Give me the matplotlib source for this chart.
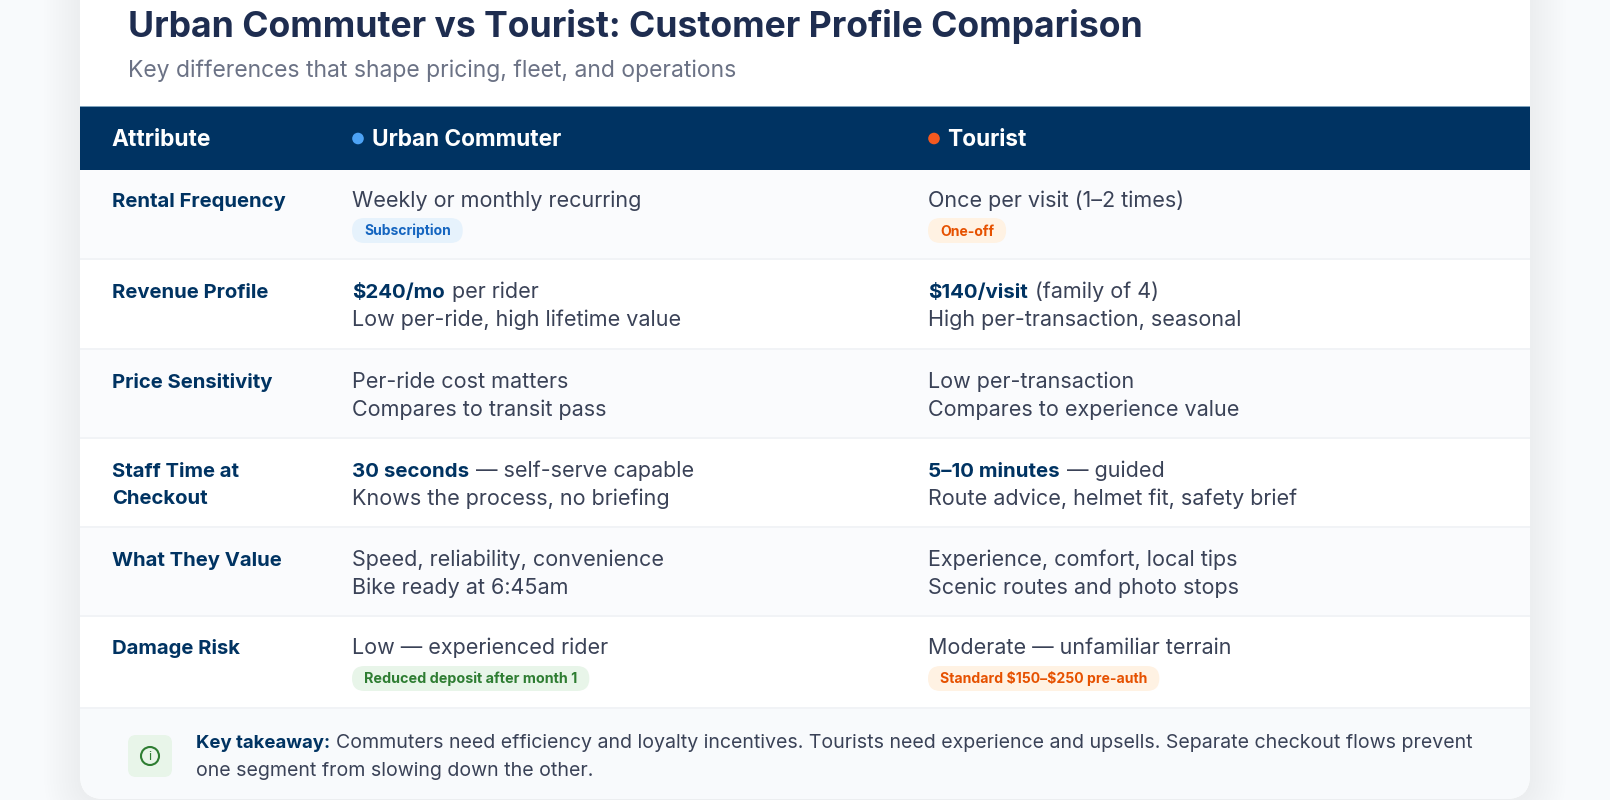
import matplotlib
matplotlib.use('Agg')
import matplotlib.pyplot as plt
from matplotlib.patches import FancyBboxPatch, Rectangle, Circle

plt.rcParams['font.family'] = ['Inter', 'DejaVu Sans']
plt.rcParams['text.parse_math'] = False

title = 'Urban Commuter vs Tourist: Customer Profile Comparison'
subtitle = 'Key differences that shape pricing, fleet, and operations'
headers = ['Attribute', 'Urban Commuter', 'Tourist']
attributes = ['Rental Frequency', 'Revenue Profile', 'Price Sensitivity',
              'Staff Time at\nCheckout', 'What They Value', 'Damage Risk']
# first line: bold lead-in, then plain rest
commuter_bold = ['', '$240/mo', '', '30 seconds', '', '']
commuter_line1 = ['Weekly or monthly recurring', ' per rider', 'Per-ride cost matters',
                  ' \u2014 self-serve capable', 'Speed, reliability, convenience', 'Low \u2014 experienced rider']
commuter_line2 = ['', 'Low per-ride, high lifetime value', 'Compares to transit pass',
                  'Knows the process, no briefing', 'Bike ready at 6:45am', '']
commuter_tags = ['Subscription', '', '', '', '', 'Reduced deposit after month 1']
tourist_bold = ['', '$140/visit', '', '5\u201310 minutes', '', '']
tourist_line1 = ['Once per visit (1\u20132 times)', ' (family of 4)', 'Low per-transaction',
                 ' \u2014 guided', 'Experience, comfort, local tips', 'Moderate \u2014 unfamiliar terrain']
tourist_line2 = ['', 'High per-transaction, seasonal', 'Compares to experience value',
                 'Route advice, helmet fit, safety brief', 'Scenic routes and photo stops', '']
tourist_tags = ['One-off', '', '', '', '', 'Standard $150\u2013$250 pre-auth']
takeaway_bold = 'Key takeaway:'
takeaway_1 = ' Commuters need efficiency and loyalty incentives. Tourists need experience and upsells. Separate checkout flows prevent'
takeaway_2 = 'one segment from slowing down the other.'

NAVY = '#003362'
INK = '#3a4257'
BODY = 15.5

fig = plt.figure(figsize=(16.1, 8), dpi=100, facecolor='#f8fafc')
ax = fig.add_axes([0, 0, 1, 1])
ax.set_xlim(0, 1610)
ax.set_ylim(800, 0)
ax.axis('off')
rend = fig.canvas.get_renderer()


def card_shape(x0, y0, x1, y1, r, **kw):
    p = FancyBboxPatch((x0 + r, y0 + r), x1 - x0 - 2 * r, y1 - y0 - 2 * r,
                       boxstyle='round,pad=%g,rounding_size=%g' % (r, r), **kw)
    ax.add_patch(p)
    return p


def seg_text(x, y, bold, plain, size, bold_color=NAVY, color=INK):
    if bold:
        t = ax.text(x, y, bold, fontsize=size * 0.95, fontweight='bold', color=bold_color, va='baseline')
        x = t.get_window_extent(rend).x1 + 1
        if plain.startswith(' '):
            x += size * 0.38
            plain = plain[1:]
    ax.text(x, y, plain, fontsize=size, color=color, va='baseline')


def pill(x, y0, label, size, bg, fg):
    t = ax.text(x + 12, y0 + 17.5, label, fontsize=size, fontweight='bold', color=fg, va='baseline', zorder=4)
    w = t.get_window_extent(rend).width + 24
    card_shape(x, y0, x + w, y0 + 25, 12.5, fc=bg, ec='none', zorder=3)


# soft card shadow
for k in range(12):
    g = 36 - k * 3
    card_shape(80 - g, -60, 1530 + g, 800 + g, 24 + g, fc='#1e2d50', ec='none', alpha=0.0035, zorder=1)

card = card_shape(80, -60, 1530, 799, 24, fc='white', ec='none', zorder=2)

# footer band, clipped to the rounded card
foot = Rectangle((80, 708), 1450, 92, fc='#f8fafc', ec='none', zorder=2.1)
ax.add_patch(foot)
foot.set_clip_path(card)

# header band
ax.add_patch(Rectangle((80, 107), 1450, 63, fc=NAVY, ec='none', zorder=2.2))
ax.add_patch(Rectangle((80, 106), 1450, 1.2, fc='#7fa3bd', ec='none', zorder=2.2))

# rows
row_edges = [170, 259, 349, 438, 527, 616, 708]
for i in range(6):
    if i % 2 == 0:
        ax.add_patch(Rectangle((80, row_edges[i]), 1450, row_edges[i + 1] - row_edges[i],
                               fc='#fafbfd', ec='none', zorder=2.1))
    ax.add_patch(Rectangle((80, row_edges[i + 1] - 1.2), 1450, 2, fc='#f1f3f6', ec='none', zorder=2.3))

ax.text(128, 37.5, title, fontsize=25.6, fontweight='bold', color='#1e2d50', va='baseline', zorder=5)
ax.text(128, 77.5, subtitle, fontsize=16.5, color='#6b7285', va='baseline', zorder=5)

ax.text(111, 146, headers[0], fontsize=16.4, fontweight='bold', color='white', va='baseline', zorder=5)
ax.add_patch(Circle((358, 138.5), 5.8, fc='#4da3f5', ec='none', zorder=5))
ax.text(372, 146, headers[1], fontsize=16.3, fontweight='bold', color='white', va='baseline', zorder=5)
ax.add_patch(Circle((934, 138.5), 5.8, fc='#f4591f', ec='none', zorder=5))
ax.text(947, 146, headers[2], fontsize=16.3, fontweight='bold', color='white', va='baseline', zorder=5)

baselines = [206.7, 298.2, 387.7, 476.7, 565.7, 653.7]
for i, y in enumerate(baselines):
    lines = attributes[i].split('\n')
    for j, s in enumerate(lines):
        ax.text(112, y + j * 27, s, fontsize=14.6, fontweight='bold', color=NAVY, va='baseline', zorder=5)
    for x, bold, l1, l2 in ((352, commuter_bold, commuter_line1, commuter_line2),
                            (928, tourist_bold, tourist_line1, tourist_line2)):
        seg_text(x, y, bold[i], l1[i], BODY)
        if l2[i]:
            ax.text(x, y + 28, l2[i], fontsize=BODY, color=INK, va='baseline', zorder=5)

for c in ax.texts:
    c.set_zorder(5)

pill(352, 218, commuter_tags[0], 10.0, '#e6f2fc', '#1565c0')
pill(928, 218, tourist_tags[0], 10.1, '#fff2e3', '#e65100')
pill(352, 666, commuter_tags[5], 10.3, '#e8f5e9', '#2e7d32')
pill(928, 666, tourist_tags[5], 10.1, '#fff2e3', '#e65100')

# takeaway
card_shape(128, 735, 172, 777, 8, fc='#e8f5e9', ec='none', zorder=3)
ax.add_patch(Circle((150, 756), 9, fc='none', ec='#2e7d32', lw=1.5, zorder=4))
ax.text(150, 756.5, 'i', fontsize=9.5, color='#2e7d32', ha='center', va='center', zorder=5)
t0 = len(ax.texts)
seg_text(196, 748.5, takeaway_bold, takeaway_1, 14.1)
ax.text(196, 775.5, takeaway_2, fontsize=14.1, color=INK, va='baseline')
for c in ax.texts[t0:]:
    c.set_zorder(5)

fig.savefig('out.png', dpi=100, facecolor=fig.get_facecolor())
